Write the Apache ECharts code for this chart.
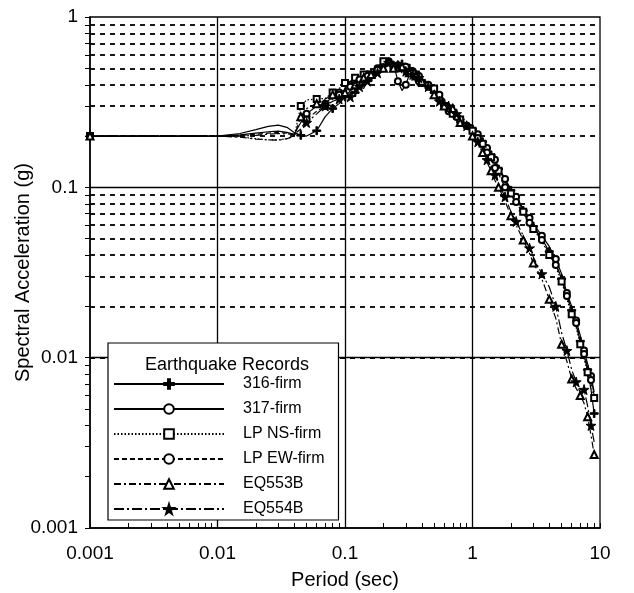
<!DOCTYPE html>
<html><head><meta charset="utf-8">
<script src="https://cdn.jsdelivr.net/npm/echarts@6/dist/echarts.min.js"></script>
<style>html,body{margin:0;padding:0;background:#fff}#c{width:634px;height:593px}</style>
</head><body><div id="c"></div>
<script>
const periods = [0.001,0.01,0.015,0.02,0.025,0.03,0.035,0.04,0.045,0.05,0.06,0.07,0.08,0.09,0.1,0.11,0.12,0.13,0.14,0.15,0.16,0.18,0.2,0.22,0.24,0.26,0.28,0.3,0.32,0.34,0.36,0.38,0.4,0.45,0.5,0.55,0.6,0.65,0.7,0.75,0.8,0.9,1.0,1.1,1.2,1.3,1.4,1.5,1.6,1.8,2.0,2.2,2.5,2.8,3.0,3.5,4.0,4.5,5.0,5.5,6.0,6.5,7.0,7.5,8.0,8.5,9.0];
const sa316 = [0.2,0.2,0.207,0.218,0.228,0.232,0.225,0.21,0.202,0.2,0.215,0.26,0.29,0.31,0.34,0.37,0.36,0.4,0.42,0.41,0.44,0.48,0.52,0.56,0.52,0.5,0.53,0.47,0.5,0.46,0.44,0.45,0.42,0.4,0.36,0.35,0.31,0.3,0.28,0.27,0.25,0.235,0.22,0.2,0.185,0.17,0.155,0.14,0.128,0.11,0.096,0.087,0.073,0.064,0.059,0.05,0.042,0.036,0.029,0.023,0.019,0.0155,0.0125,0.0102,0.0085,0.0065,0.0047];
const sa317 = [0.2,0.2,0.203,0.208,0.212,0.214,0.21,0.205,0.24,0.27,0.3,0.31,0.34,0.36,0.37,0.4,0.42,0.41,0.44,0.46,0.47,0.5,0.54,0.55,0.53,0.42,0.37,0.4,0.46,0.48,0.45,0.42,0.43,0.39,0.37,0.33,0.32,0.28,0.29,0.26,0.26,0.23,0.22,0.205,0.19,0.17,0.16,0.145,0.132,0.112,0.098,0.088,0.075,0.066,0.061,0.052,0.045,0.038,0.031,0.024,0.02,0.0165,0.0135,0.011,0.0092,0.0078,0.0063];
const saLPNS = [0.2,0.2,0.198,0.193,0.19,0.19,0.193,0.2,0.3,0.326,0.33,0.333,0.36,0.38,0.41,0.42,0.44,0.43,0.46,0.47,0.46,0.51,0.55,0.57,0.51,0.54,0.5,0.49,0.47,0.44,0.46,0.43,0.41,0.4,0.38,0.34,0.3,0.31,0.27,0.27,0.25,0.24,0.215,0.2,0.18,0.165,0.15,0.135,0.125,0.105,0.092,0.084,0.072,0.063,0.057,0.048,0.04,0.034,0.028,0.022,0.018,0.015,0.012,0.0098,0.0082,0.007,0.0058];
const saLPEW = [0.2,0.2,0.202,0.205,0.208,0.21,0.208,0.205,0.22,0.25,0.28,0.3,0.33,0.35,0.38,0.39,0.41,0.43,0.42,0.45,0.47,0.49,0.53,0.54,0.55,0.52,0.49,0.51,0.48,0.47,0.44,0.45,0.42,0.4,0.36,0.35,0.33,0.29,0.28,0.26,0.25,0.23,0.21,0.195,0.18,0.16,0.145,0.13,0.12,0.1,0.09,0.082,0.07,0.062,0.058,0.049,0.041,0.035,0.029,0.023,0.019,0.016,0.013,0.0105,0.0088,0.0074,0.006];
const sa553 = [0.2,0.2,0.197,0.192,0.19,0.189,0.193,0.2,0.26,0.29,0.31,0.33,0.35,0.37,0.36,0.39,0.4,0.42,0.44,0.43,0.46,0.47,0.5,0.53,0.5,0.48,0.51,0.46,0.47,0.44,0.45,0.41,0.42,0.38,0.35,0.33,0.3,0.28,0.29,0.25,0.24,0.22,0.2,0.18,0.16,0.14,0.125,0.11,0.1,0.083,0.068,0.06,0.049,0.041,0.036,0.029,0.022,0.017,0.012,0.0095,0.0075,0.0066,0.006,0.0054,0.0045,0.0035,0.0027];
const sa554 = [0.2,0.2,0.2,0.202,0.205,0.207,0.206,0.204,0.215,0.24,0.27,0.3,0.32,0.33,0.35,0.34,0.37,0.39,0.38,0.42,0.44,0.47,0.51,0.54,0.5,0.52,0.47,0.48,0.45,0.46,0.43,0.44,0.4,0.39,0.37,0.32,0.31,0.3,0.26,0.27,0.25,0.23,0.21,0.185,0.165,0.145,0.13,0.118,0.105,0.088,0.072,0.063,0.052,0.044,0.039,0.031,0.026,0.02,0.014,0.011,0.0085,0.0072,0.0062,0.0065,0.0052,0.004,0.0032];
const seriesNames = ['316-firm','317-firm','LP NS-firm','LP EW-firm','EQ553B','EQ554B'];
const seriesValues = [sa316, sa317, saLPNS, saLPEW, sa553, sa554];
const xMajor = [0.01, 0.1, 1];
const yMajor = [0.01, 0.1];
const yMinor = [0.002,0.003,0.004,0.005,0.006,0.007,0.008,0.009,0.02,0.03,0.04,0.05,0.06,0.07,0.08,0.09,0.2,0.3,0.4,0.5,0.6,0.7,0.8,0.9];
const yTicks = [0.001,0.002,0.003,0.004,0.005,0.006,0.007,0.008,0.009,0.01,0.02,0.03,0.04,0.05,0.06,0.07,0.08,0.09,0.1,0.2,0.3,0.4,0.5,0.6,0.7,0.8,0.9,1];
const xTicks = [0.001,0.002,0.003,0.004,0.005,0.006,0.007,0.008,0.009,0.01,0.02,0.03,0.04,0.05,0.06,0.07,0.08,0.09,0.1,0.2,0.3,0.4,0.5,0.6,0.7,0.8,0.9,1,2,3,4,5,6,7,8,9,10];
const legendTitle = 'Earthquake Records';

const plusPath = 'path://M4,0H6V4H10V6H6V10H4V6H0V4H4Z';
const starPath = 'path://M50,0L61,35L98,35L68,57L79,91L50,70L21,91L32,57L2,35L39,35Z';
const styles = [
  {symbol: plusPath, size: 8, dash: 'solid'},
  {symbol: 'emptyCircle', size: 6, dash: 'solid'},
  {symbol: 'emptyRect', size: 6, dash: [1.5,2]},
  {symbol: 'emptyCircle', size: 6, dash: [5,3]},
  {symbol: 'emptyTriangle', size: 7, dash: [7,3,2,3]},
  {symbol: starPath, size: 10, dash: [10,3,2,3]}
];
const FONT = 'Liberation Sans';

const series = seriesNames.map((name, k) => ({
  name, type: 'line',
  symbol: styles[k].symbol, symbolSize: styles[k].size, showAllSymbol: true,
  lineStyle: {color: '#000', width: 1.2, type: styles[k].dash},
  itemStyle: {color: '#000', borderColor: '#000', borderWidth: 1},
  data: periods.map((t, i) => {
    const d = {value: [t, seriesValues[k][i]]};
    if ((t > 0.001 && t < 0.045) || (i + k) % 2 === 1) d.symbol = 'none';
    return d;
  }),
  z: 3
}));
series.push({
  type: 'line', data: [], silent: true,
  markLine: {silent: true, symbol: 'none', label: {show: false}, animation: false, z: 1,
    lineStyle: {color: '#000', type: [5,5], width: 1.8},
    data: yMinor.map(v => ({yAxis: v}))},
  z: 1
});
series.push({
  type: 'line', data: [], silent: true,
  markLine: {silent: true, symbol: 'none', label: {show: false}, animation: false, z: 1,
    lineStyle: {color: '#000', type: 'solid', width: 1.3},
    data: yMajor.map(v => ({yAxis: v})).concat(xMajor.map(v => ({xAxis: v})))},
  z: 1
});

const chart = echarts.init(document.getElementById('c'), null, {renderer: 'canvas'});
chart.setOption({
  animation: false,
  backgroundColor: '#fff',
  grid: {left: 90, right: 34, top: 17, bottom: 65, show: true, borderColor: '#000', borderWidth: 1.3,
    outerBoundsMode: 'none', containLabel: false},
  title: {text: legendTitle, left: 222, top: 351, textAlign: 'center', z: 10,
    textStyle: {fontSize: 18, fontWeight: 'normal', color: '#000', fontFamily: FONT}},
  legend: {
    data: seriesNames, orient: 'vertical', left: 108, bottom: 73, z: 8,
    itemWidth: 110, itemHeight: 12, itemGap: 9,
    padding: [33, 14, 3, 5], borderColor: '#000', borderWidth: 1.2, backgroundColor: '#fff',
    textStyle: {fontSize: 16, lineHeight: 16, color: '#000', fontFamily: FONT, padding: [0, 0, 0, 14]}
  },
  xAxis: {
    type: 'log', logBase: 10, min: 0.001, max: 10,
    name: 'Period (sec)', nameLocation: 'middle', nameGap: 42, nameMoveOverlap: false,
    nameTextStyle: {fontSize: 20, color: '#000', fontFamily: FONT},
    axisLine: {show: true, lineStyle: {color: '#000', width: 1.5}},
    axisTick: {show: true, inside: true, length: 5, lineStyle: {color: '#000'}, customValues: xTicks},
    axisLabel: {fontSize: 19, color: '#000', fontFamily: FONT, margin: 16},
    splitLine: {show: false}
  },
  yAxis: {
    type: 'log', logBase: 10, min: 0.001, max: 1,
    name: 'Spectral Acceleration (g)', nameLocation: 'middle', nameGap: 57, nameMoveOverlap: false,
    nameTextStyle: {fontSize: 20, color: '#000', fontFamily: FONT},
    axisLine: {show: true, lineStyle: {color: '#000', width: 1.5}},
    axisTick: {show: true, length: 5, lineStyle: {color: '#000'}, customValues: yTicks},
    axisLabel: {fontSize: 19, color: '#000', fontFamily: FONT, margin: 12},
    splitLine: {show: false}
  },
  series
});
</script></body></html>
